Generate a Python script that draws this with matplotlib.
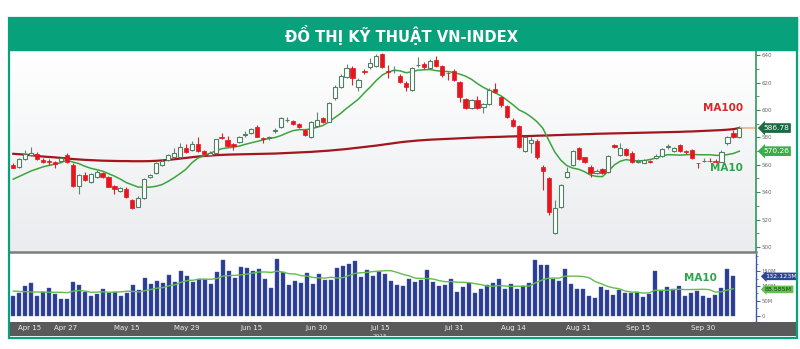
import matplotlib.pyplot as plt
import numpy as np
import pandas as pd
from matplotlib import font_manager
from matplotlib.colors import LinearSegmentedColormap
from matplotlib.patches import Rectangle
from matplotlib.ticker import MultipleLocator

# --- data (VN-Index, Apr - Oct 2015) ---
opens = [560, 558.1, 564, 567.1, 567.8, 563.4, 563, 562, 562.9, 567.3,
         560, 544.5, 552.7, 547.6, 551.3, 554.2, 551.3, 544.7, 541.1, 542.5,
         534.5, 529.4, 535.5, 551.3, 554.2, 559.8, 563.4, 565.4, 565.4, 572,
         570.7, 574.9, 569.8, 567.3, 568.3, 580.4, 578, 575.3, 576.8, 582,
         582.9, 587.3, 579, 579.5, 584.5, 587.7, 592.5, 591.9, 589.5, 585.3,
         580, 588.2, 593.8, 591.4, 608.4, 616.5, 624.2, 630.3, 616.5, 628,
         631.5, 632, 640.7, 628, 629, 624.7, 619.8, 614.5, 632.5, 633.4,
         630.3, 636.4, 632, 626.8, 628.6, 620.5, 607.7, 601.1, 607.2, 601.9,
         604, 615, 609.2, 602.8, 592.6, 588.2, 570.2, 576.1, 577.5, 558.6,
         550, 510.4, 529.4, 550.8, 559.8, 572, 565.4, 558.1, 554.2, 556.7,
         554.9, 574.2, 567.1, 571.2, 568.8, 561.8, 561.5, 563, 565, 566.3,
         573, 570.2, 574.2, 569.6, 570.7, 561.2, 562.5, 562.8, 562.7, 562.2,
         576.1, 583.4, 580]
highs = [561, 565, 570.7, 572.7, 569, 565, 564, 563, 566, 568.5,
         561, 553.5, 555, 554, 556, 555, 552, 545.5, 543.5, 544,
         535, 537, 550, 553.5, 562, 564, 568, 572, 576, 575,
         577, 580.4, 570.5, 570, 579, 583, 581, 576, 581, 584.5,
         587, 589, 580, 581, 587, 595, 595, 593, 590.5, 586,
         592, 598.7, 595, 606, 618, 626, 633.4, 632, 623, 630,
         637.6, 640.5, 641.5, 632.7, 632, 626, 621, 631, 638.3, 635,
         637, 639.3, 633, 628, 630, 621, 608.5, 608, 610, 605,
         616, 619.8, 610, 603.5, 594, 589, 581, 580, 578.5, 559.5,
         551, 534.3, 546, 558.1, 571, 573, 566, 560, 557, 557.5,
         567, 575, 575.6, 572, 570, 564, 564, 563.5, 567.5, 572,
         575.1, 573, 575, 571, 571.5, 561.5, 565, 565, 564, 570.5,
         581, 585, 588.2]
lows = [557.5, 557.5, 563.5, 566.5, 563.5, 561, 560, 557.4, 562, 561.5,
        544, 538.4, 548, 547, 550.5, 550, 543.5, 538.6, 540.5, 536,
        527.5, 529, 535, 550, 553.5, 559, 563, 565, 565, 568.5,
        570, 569.5, 567, 566.5, 568, 579, 573, 570.7, 576, 580,
        582.5, 580, 575.6, 578, 583, 587, 591, 589, 587, 581,
        579.5, 587.5, 590.5, 591, 607.5, 616, 623.5, 618, 614, 626,
        630, 631, 630.5, 623.2, 627, 619.5, 614, 614, 631.5, 630,
        629.5, 631, 624, 622, 621, 606, 600.5, 600.5, 600.5, 598,
        603.5, 612, 602, 594, 587.5, 572, 569.5, 568.8, 564.5, 541.6,
        523.3, 509.5, 528.5, 550, 559, 563.5, 561, 551.3, 553, 553.5,
        554, 572, 566.5, 566.5, 561.5, 561, 561, 561.5, 564.5, 566,
        571.5, 569.5, 569.5, 568, 564, 558, 562.3, 562.3, 561.8, 562,
        574.4, 579.5, 579.8]
closes = [558, 564, 567.8, 568.3, 564.4, 562, 562, 560.5, 564.7, 562,
          544.5, 552.5, 548.9, 553.2, 554.5, 550.8, 544, 542.1, 542.8, 536.7,
          528.2, 536, 549.4, 552.5, 561, 562.9, 567.1, 568.3, 572.7, 569.1,
          574.9, 570.2, 567.8, 568.8, 578.5, 579.5, 573.6, 573.6, 580.4, 582.2,
          585.8, 580.4, 578.8, 579.8, 585, 593.8, 592.7, 589.9, 587.7, 581.7,
          591.4, 592.6, 591.4, 605.2, 616.9, 624.7, 630.3, 623, 621.8, 627.8,
          634.4, 639.3, 631, 627.8, 629.2, 620.5, 616.5, 630.3, 632.8, 631,
          635.9, 632, 625.4, 626.6, 621.8, 609.2, 601.1, 607.2, 601.1, 604,
          614.5, 612.8, 603.5, 594.6, 588.5, 572.7, 580, 578, 565.4, 555.6,
          525.7, 528.2, 545.2, 554.9, 570.2, 564.2, 561.8, 553.7, 555.6, 554.2,
          566.3, 573, 572, 567.1, 562.2, 562.7, 563.4, 562, 566.3, 571.2,
          573.4, 572, 570.2, 569.4, 564.7, 561, 562.7, 562.6, 562, 569.5,
          580.4, 580, 586.78]
ma100 = [568.0, 567.7, 567.4, 567.0, 566.5, 566.0, 565.7, 565.4, 565.0, 564.6,
         564.2, 563.9, 563.6, 563.4, 563.2, 563.0, 562.9, 562.8, 562.7, 562.7,
         562.6, 562.6, 562.6, 562.7, 562.9, 563.2, 563.6, 564.0, 564.5, 565.0,
         565.5, 566.0, 566.4, 566.7, 567.0, 567.2, 567.4, 567.5, 567.6, 567.7,
         567.8, 567.9, 568.0, 568.1, 568.2, 568.4, 568.6, 568.8, 569.0, 569.2,
         569.4, 569.7, 570.0, 570.3, 570.7, 571.1, 571.5, 572.0, 572.5, 573.0,
         573.5, 574.0, 574.6, 575.2, 575.8, 576.4, 576.9, 577.3, 577.7, 578.0,
         578.3, 578.5, 578.7, 578.9, 579.1, 579.3, 579.5, 579.7, 579.9, 580.0,
         580.2, 580.3, 580.4, 580.6, 580.7, 580.8, 580.9, 581.0, 581.2, 581.3,
         581.4, 581.6, 581.7, 581.9, 582.0, 582.1, 582.3, 582.4, 582.6, 582.7,
         582.8, 582.9, 583.0, 583.1, 583.2, 583.3, 583.4, 583.5, 583.6, 583.7,
         583.8, 583.9, 584.0, 584.2, 584.3, 584.5, 584.7, 584.9, 585.1, 585.3,
         585.6, 586.0, 586.78]
ma10_head = [549.5, 551.5, 553.5, 555.5, 557.0, 558.5, 559.5, 560.5, 561.5]

volumes = [66.7, 77.8, 100, 108.9, 66.7, 81, 92.2, 73.3, 55.6, 55.6,
           114.4, 103.3, 81, 66.7, 73.3, 91.1, 75.6, 80, 66.7, 75.6,
           104.4, 86.7, 126.7, 106.7, 116.7, 108.9, 136.7, 114.4, 148.9, 133.3,
           114.4, 122.2, 122.2, 106.7, 145.6, 186.7, 151.1, 125.6, 164.4, 158.9,
           151.1, 155.6, 122.2, 92.2, 188.9, 147.8, 102.2, 116.7, 108.9, 142.2,
           106.7, 140, 120, 120, 158.9, 166.7, 173.3, 184.4, 131.1, 153.3,
           133.3, 151.1, 140, 116.7, 102.2, 100, 122.2, 112.2, 120, 153.3,
           112.2, 100, 103.3, 122.2, 81, 95.6, 111.1, 77.8, 88.9, 103.3,
           108.9, 122.2, 88.9, 106.7, 88.9, 100, 108.9, 186.7, 171.1, 171.1,
           122.2, 117.8, 155.6, 105.6, 88.9, 88.9, 66.7, 61.1, 97.8, 86.7,
           70, 86.7, 77.8, 75.6, 81, 62.2, 72.2, 151.1, 86.7, 95.6,
           88.9, 100, 66.7, 77.8, 84.4, 67.8, 61.1, 70, 92.2, 155.6,
           132.123]
vol_ma10_head = [83, 82, 81, 80, 80, 80, 79, 79, 79]

date_labels = ["Apr 15", "Apr 27", "May 15", "May 29", "Jun 15", "Jun 30",
               "Jul 15", "Jul 31", "Aug 14", "Aug 31", "Sep 15", "Sep 30"]
date_pos = [2.8, 8.7, 19.1, 29.2, 40.1, 51.0, 61.6, 74.2, 84.0, 94.9, 105.0, 115.9]
price_ticks = [500, 520, 540, 560, 580, 600, 620, 640]
vol_ticks = [0, 50, 100, 150]
vol_tick_labels = ["0", "50M", "100M", "150M"]
title = "ĐỒ THỊ KỸ THUẬT VN-INDEX"

W, H = 800, 349
GREEN = "#07a27b"


def fx(px):
    return px / W


def fy(py):
    return 1 - py / H


names = {f.name for f in font_manager.fontManager.ttflist}
if "Liberation Sans Narrow" in names:
    title_font, title_size = "Liberation Sans Narrow", 14.6
elif "DejaVu Sans Condensed" in names:
    title_font, title_size = "DejaVu Sans Condensed", 11.8
else:
    title_font, title_size = "DejaVu Sans", 10.6

o = np.array(opens)
h = np.array(highs)
l = np.array(lows)
c = np.array(closes)
x = np.arange(len(c))
up = c >= o

ma10 = pd.Series(closes).rolling(10).mean().to_numpy()
ma10[:9] = ma10_head
vol = np.array(volumes)
xv = np.arange(len(vol))
vma = pd.Series(volumes).rolling(10).mean().to_numpy()
vma[:9] = vol_ma10_head

fig = plt.figure(figsize=(8, 3.49), dpi=100)

# title band + frame
fig.patches.append(Rectangle((fx(9), fy(50)), fx(797) - fx(9), fy(18) - fy(50),
                             transform=fig.transFigure, color=GREEN, zorder=0))
fig.patches.append(Rectangle((fx(9), fy(338)), fx(797) - fx(9), fy(18) - fy(338),
                             transform=fig.transFigure, fill=False, ec=GREEN,
                             lw=1.6, zorder=5))
fig.text(fx(402), fy(35), title, ha="center", va="center", color="white",
         fontsize=title_size, fontweight="bold", family=[title_font, "DejaVu Sans"])

# price panel
xlim = (-0.55, 124.8)
ax = fig.add_axes([fx(10), fy(252), fx(756) - fx(10), fy(50) - fy(252)])
ax.set_xlim(*xlim)
ax.set_ylim(496.4, 643.7)
grad = LinearSegmentedColormap.from_list("bg", ["#ffffff", "#eaecef"])
ax.imshow(np.linspace(0, 1, 200).reshape(-1, 1), cmap=grad, aspect="auto",
          extent=[xlim[0], xlim[1], 496.4, 643.7], origin="upper", zorder=0)

ax.plot(x, ma100, color="#a3161d", lw=1.6, zorder=2)
ax.plot(x, ma10, color="#3ba53b", lw=1.1, zorder=2)
ax.hlines(ma100[-1], x[-1], xlim[1], color="#f3b07a", lw=1.2, zorder=2)

body_lo = np.minimum(o, c)
body_h = np.maximum(np.abs(c - o), 0.4)
ax.vlines(x[up], l[up], h[up], color="#5d8a6e", lw=0.8, zorder=3)
ax.vlines(x[~up], l[~up], h[~up], color="#d8232a", lw=0.8, zorder=3)
ax.bar(x[up], body_h[up], bottom=body_lo[up], width=0.7, facecolor="white",
       edgecolor="#4f8062", lw=0.8, zorder=4)
ax.bar(x[~up], body_h[~up], bottom=body_lo[~up], width=0.72, color="#e5161e",
       edgecolor="#e5161e", lw=0.5, zorder=4)

ax.yaxis.tick_right()
ax.set_yticks(price_ticks)
ax.yaxis.set_minor_locator(MultipleLocator(10))
ax.tick_params(axis="y", which="major", length=3, width=0.8, color="#2f8f55",
               labelsize=4, labelcolor="#6a6a6a", pad=1)
ax.tick_params(axis="y", which="minor", length=2, width=0.6, color="#2f8f55")
ax.set_xticks([])
for s in ["top", "left", "bottom"]:
    ax.spines[s].set_visible(False)
ax.spines["right"].set_color("#2f9a5a")
ax.spines["right"].set_linewidth(1.2)

ax.text(126.0, ma100[-1], "586.78", ha="left", va="center", fontsize=5.3,
        color="white", zorder=6,
        bbox=dict(boxstyle="larrow,pad=0.25", fc="#1b6a43", ec="none"))
ax.text(126.0, ma10[-1], "570.26", ha="left", va="center", fontsize=5.3,
        color="white", zorder=6,
        bbox=dict(boxstyle="larrow,pad=0.25", fc="#3aae4a", ec="none"))
ax.text(119.2, 601.5, "MA100", ha="center", va="center", fontsize=7.5,
        fontweight="bold", color="#d6282b", zorder=6)
ax.text(119.8, 557.5, "MA10", ha="center", va="center", fontsize=7.5,
        fontweight="bold", color="#2ea44a", zorder=6)

# separator between panels
fig.add_artist(plt.Line2D([fx(9), fx(756)], [fy(252), fy(252)],
                          transform=fig.transFigure, color="#7d7d7d", lw=1.8))

# volume panel
axv = fig.add_axes([fx(10), fy(321), fx(756) - fx(10), fy(254) - fy(321)])
axv.set_xlim(-0.55, 123.8)
axv.set_ylim(-16.7, 206.7)
axv.bar(xv, vol, width=0.66, color="#2b3d93", edgecolor="#4a5cab", lw=0.3, zorder=2)
axv.plot(xv, vma, color="#62bd4f", lw=1.0, zorder=3)
axv.yaxis.tick_right()
axv.set_yticks(vol_ticks)
axv.set_yticklabels(vol_tick_labels)
axv.yaxis.set_minor_locator(MultipleLocator(25))
axv.tick_params(axis="y", which="major", length=3, width=0.7, color="#3a57a8",
                labelsize=3.8, labelcolor="#6a6a6a", pad=1)
axv.tick_params(axis="y", which="minor", length=1.5, width=0.5, color="#3a57a8")
axv.set_xticks([])
for s in ["top", "left", "bottom"]:
    axv.spines[s].set_visible(False)
axv.spines["right"].set_color("#3a57a8")
axv.spines["right"].set_linewidth(1.0)
axv.text(125.3, vol[-1], "132.123M", ha="left", va="center", fontsize=4.6,
         color="white", zorder=6,
         bbox=dict(boxstyle="larrow,pad=0.2", fc="#2e4591", ec="none"))
axv.text(125.3, vma[-1] - 2, "88.585M", ha="left", va="center", fontsize=4.6,
         color="#1d3d1d", zorder=6,
         bbox=dict(boxstyle="larrow,pad=0.2", fc="#63c14f", ec="none"))
axv.text(114.5, 126, "MA10", ha="center", va="center", fontsize=7.5,
         fontweight="bold", color="#2ea44a", zorder=6)

# date bar
axd = fig.add_axes([fx(9), fy(336), fx(797) - fx(9), fy(322) - fy(336)])
axd.set_xlim((9 - 13.3) / 5.95, (797 - 13.3) / 5.95)
axd.set_ylim(0, 1)
axd.set_facecolor("#5a5a5a")
axd.set_xticks([])
axd.set_yticks([])
for s in axd.spines.values():
    s.set_visible(False)
for pos, lab in zip(date_pos, date_labels):
    axd.text(pos, 0.55, lab, ha="center", va="center", color="#eeeeee", fontsize=5)
axd.text(date_pos[6], -0.05, "2015", ha="center", va="center", color="#dddddd",
         fontsize=4.2, clip_on=True)

fig.savefig("out.png", dpi=100)
